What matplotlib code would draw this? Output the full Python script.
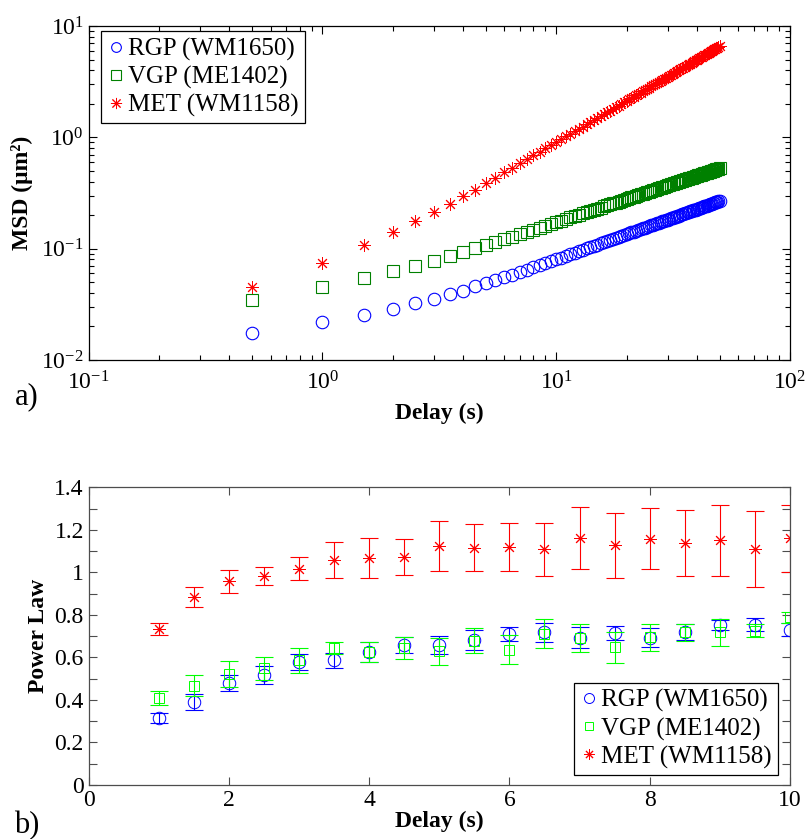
import matplotlib
matplotlib.use("Agg")
import matplotlib.pyplot as plt
from matplotlib.lines import Line2D
from matplotlib.ticker import LogLocator, MultipleLocator, FuncFormatter, NullFormatter
import math

plt.rcParams["font.family"] = ["Liberation Serif", "DejaVu Serif"]
plt.rcParams["mathtext.fontset"] = "custom"
plt.rcParams["mathtext.rm"] = "Liberation Serif"
plt.rcParams["mathtext.it"] = "Liberation Serif:italic"
plt.rcParams["mathtext.bf"] = "Liberation Serif:bold"

OUT_PATH = "out.png"
FONT_SIZE = 17

LABELS = ["RGP (WM1650)", "VGP (ME1402)", "MET (WM1158)"]

# ---- panel a: mean squared displacement vs delay ----
MSD_DELAY = [
    0.5, 1.0, 1.5, 2.0, 2.5, 3.0, 3.5, 4.0, 4.5, 5.0,
    5.5, 6.0, 6.5, 7.0, 7.5, 8.0, 8.5, 9.0, 9.5, 10.0,
    10.5, 11.0, 11.5, 12.0, 12.5, 13.0, 13.5, 14.0, 14.5, 15.0,
    15.5, 16.0, 16.5, 17.0, 17.5, 18.0, 18.5, 19.0, 19.5, 20.0,
    20.5, 21.0, 21.5, 22.0, 22.5, 23.0, 23.5, 24.0, 24.5, 25.0,
    25.5, 26.0, 26.5, 27.0, 27.5, 28.0, 28.5, 29.0, 29.5, 30.0,
    30.5, 31.0, 31.5, 32.0, 32.5, 33.0, 33.5, 34.0, 34.5, 35.0,
    35.5, 36.0, 36.5, 37.0, 37.5, 38.0, 38.5, 39.0, 39.5, 40.0,
    40.5, 41.0, 41.5, 42.0, 42.5, 43.0, 43.5, 44.0, 44.5, 45.0,
    45.5, 46.0, 46.5, 47.0, 47.5, 48.0, 48.5, 49.0, 49.5, 50.0,
]
MSD_RGP = [
    0.0175, 0.022, 0.0252, 0.0288, 0.0324, 0.0354, 0.039, 0.0419, 0.0458, 0.0488,
    0.052, 0.0557, 0.058, 0.0613, 0.0646, 0.0678, 0.0709, 0.074, 0.0771, 0.0801,
    0.0831, 0.0861, 0.089, 0.0919, 0.0947, 0.0975, 0.1004, 0.1031, 0.1059, 0.1086,
    0.1113, 0.114, 0.1166, 0.1193, 0.1219, 0.1245, 0.1271, 0.1297, 0.1322, 0.1347,
    0.1373, 0.1398, 0.1423, 0.1447, 0.1472, 0.1496, 0.1521, 0.1545, 0.1569, 0.1593,
    0.1617, 0.164, 0.1664, 0.1688, 0.1711, 0.1734, 0.1757, 0.178, 0.1804, 0.1826,
    0.1849, 0.1872, 0.1894, 0.1917, 0.1939, 0.1962, 0.1984, 0.2006, 0.2028, 0.205,
    0.2072, 0.2094, 0.2116, 0.2138, 0.216, 0.2181, 0.2203, 0.2224, 0.2245, 0.2266,
    0.2287, 0.2308, 0.2329, 0.235, 0.2371, 0.2392, 0.2413, 0.2434, 0.2455, 0.2476,
    0.2497, 0.2518, 0.2538, 0.2558, 0.2578, 0.2598, 0.2618, 0.2638, 0.2658, 0.2678,
]
MSD_VGP = [
    0.0348, 0.0455, 0.0546, 0.0625, 0.070, 0.078, 0.086, 0.0935, 0.1006, 0.107,
    0.114, 0.122, 0.1285, 0.1352, 0.1418, 0.1483, 0.1546, 0.1608, 0.167, 0.173,
    0.1789, 0.1847, 0.1905, 0.1962, 0.2018, 0.2073, 0.2128, 0.2182, 0.2235, 0.2288,
    0.2341, 0.2393, 0.2444, 0.2495, 0.2545, 0.2595, 0.2645, 0.2694, 0.2742, 0.2791,
    0.2838, 0.2886, 0.2933, 0.298, 0.3027, 0.3073, 0.3119, 0.3165, 0.321, 0.3255,
    0.33, 0.3344, 0.3389, 0.3433, 0.3477, 0.352, 0.3563, 0.3606, 0.3649, 0.3692,
    0.3734, 0.3776, 0.3818, 0.386, 0.3901, 0.3942, 0.3984, 0.4025, 0.4065, 0.4106,
    0.4146, 0.4186, 0.4226, 0.4266, 0.4306, 0.4346, 0.4385, 0.4424, 0.4463, 0.4502,
    0.4541, 0.458, 0.4618, 0.4656, 0.4694, 0.4732, 0.477, 0.4808, 0.4846, 0.4884,
    0.4921, 0.4958, 0.4995, 0.5032, 0.5069, 0.5106, 0.5143, 0.518, 0.5216, 0.5252,
]
MSD_MET = [
    0.0449, 0.0746, 0.107, 0.142, 0.178, 0.214, 0.254, 0.294, 0.337, 0.386,
    0.434, 0.483, 0.533, 0.584, 0.636, 0.688, 0.741, 0.795, 0.85, 0.905,
    0.962, 1.018, 1.075, 1.133, 1.191, 1.25, 1.31, 1.37, 1.43, 1.491,
    1.552, 1.614, 1.676, 1.739, 1.802, 1.866, 1.93, 1.994, 2.059, 2.124,
    2.19, 2.256, 2.322, 2.389, 2.456, 2.523, 2.591, 2.659, 2.727, 2.796,
    2.865, 2.934, 3.004, 3.074, 3.144, 3.214, 3.285, 3.356, 3.427, 3.499,
    3.571, 3.643, 3.715, 3.788, 3.861, 3.934, 4.007, 4.081, 4.155, 4.229,
    4.303, 4.378, 4.453, 4.528, 4.603, 4.679, 4.755, 4.831, 4.907, 4.984,
    5.061, 5.138, 5.215, 5.292, 5.37, 5.448, 5.526, 5.604, 5.682, 5.761,
    5.84, 5.919, 5.998, 6.078, 6.158, 6.238, 6.318, 6.398, 6.479, 6.56,
]

# ---- panel b: power law exponent vs delay ----
PL_DELAY = [1.0, 1.5, 2.0, 2.5, 3.0, 3.5, 4.0, 4.5, 5.0, 5.5,
            6.0, 6.5, 7.0, 7.5, 8.0, 8.5, 9.0, 9.5, 10.0]
PL_RGP = [0.314, 0.390, 0.479, 0.519, 0.580, 0.586, 0.626, 0.657, 0.659, 0.682,
          0.710, 0.718, 0.692, 0.715, 0.692, 0.720, 0.753, 0.754, 0.731]
PL_RGP_ERR = [0.024, 0.036, 0.036, 0.042, 0.037, 0.037, 0.047, 0.038, 0.043, 0.047,
              0.034, 0.045, 0.049, 0.033, 0.045, 0.038, 0.025, 0.030, 0.030]
PL_VGP = [0.409, 0.467, 0.522, 0.550, 0.586, 0.645, 0.624, 0.645, 0.628, 0.679,
          0.637, 0.712, 0.692, 0.647, 0.694, 0.718, 0.718, 0.726, 0.789]
PL_VGP_ERR = [0.033, 0.050, 0.060, 0.054, 0.059, 0.028, 0.047, 0.051, 0.063, 0.059,
              0.069, 0.068, 0.066, 0.072, 0.063, 0.040, 0.063, 0.030, 0.025]
PL_MET = [0.734, 0.883, 0.957, 0.981, 1.018, 1.058, 1.067, 1.073, 1.125, 1.116,
          1.119, 1.108, 1.160, 1.127, 1.158, 1.139, 1.150, 1.109, 1.160]
PL_MET_ERR = [0.030, 0.048, 0.053, 0.042, 0.052, 0.084, 0.094, 0.084, 0.118, 0.112,
              0.113, 0.123, 0.146, 0.152, 0.143, 0.155, 0.165, 0.179, 0.158]

BLUE = "#0000ff"
DARK_GREEN = "#008000"
LIGHT_GREEN = "#00ff00"
RED = "#ff0000"
ASTERISK = (8, 2, 0)


def pow10_label(value, pos):
    exp = int(round(math.log10(value)))
    return r"$\mathrm{10^{%d}}$" % exp


def style_axis(ax, color="black"):
    for spine in ax.spines.values():
        spine.set_color(color)
        spine.set_linewidth(0.9)
    ax.tick_params(which="both", direction="in", top=True, right=True,
                   labelsize=FONT_SIZE, color=color, width=0.8)
    ax.tick_params(which="major", length=6)
    ax.tick_params(which="minor", length=3.5)


def add_legend(ax, handles, loc, anchor):
    leg = ax.legend(handles, LABELS, loc=loc, bbox_to_anchor=anchor,
                    borderaxespad=0, fontsize=18, frameon=True,
                    fancybox=False, framealpha=1, edgecolor="black",
                    handlelength=0.7, handletextpad=0.15, labelspacing=0.2,
                    borderpad=0.25)
    leg.get_frame().set_linewidth(0.9)
    return leg


def plot_msd(ax):
    ax.plot(MSD_DELAY, MSD_RGP, linestyle="none", marker="o", ms=9,
            mfc="none", mec=BLUE, mew=0.8)
    ax.plot(MSD_DELAY, MSD_VGP, linestyle="none", marker="s", ms=8,
            mfc="none", mec=DARK_GREEN, mew=0.8)
    ax.plot(MSD_DELAY, MSD_MET, linestyle="none", marker=ASTERISK, ms=9,
            mfc="none", mec=RED, mew=0.7)

    ax.set_xscale("log")
    ax.set_yscale("log")
    ax.set_xlim(0.1, 100)
    ax.set_ylim(0.01, 10)
    ax.xaxis.set_minor_locator(LogLocator(base=10, subs=range(2, 10)))
    ax.yaxis.set_minor_locator(LogLocator(base=10, subs=range(2, 10)))
    ax.xaxis.set_minor_formatter(NullFormatter())
    ax.yaxis.set_minor_formatter(NullFormatter())
    ax.xaxis.set_major_formatter(FuncFormatter(pow10_label))
    ax.yaxis.set_major_formatter(FuncFormatter(pow10_label))
    style_axis(ax)
    ax.tick_params(axis="x", which="major", pad=8)

    ax.set_xlabel("Delay (s)", fontsize=FONT_SIZE, fontweight="bold", labelpad=6)
    ax.set_ylabel("MSD (μm²)", fontsize=FONT_SIZE, fontweight="bold", labelpad=6)

    handles = [
        Line2D([], [], linestyle="none", marker="o", ms=7, mfc="none", mec=BLUE, mew=0.8),
        Line2D([], [], linestyle="none", marker="s", ms=6.5, mfc="none", mec=DARK_GREEN, mew=0.8),
        Line2D([], [], linestyle="none", marker=ASTERISK, ms=8, mfc="none", mec=RED, mew=0.7),
    ]
    add_legend(ax, handles, "upper left", (0.017, 0.984))


def plot_power_law(ax):
    series = [
        (PL_RGP, PL_RGP_ERR, "o", 9, BLUE),
        (PL_VGP, PL_VGP_ERR, "s", 7.5, LIGHT_GREEN),
        (PL_MET, PL_MET_ERR, ASTERISK, 9, RED),
    ]
    handles = []
    for values, errors, marker, size, color in series:
        ax.errorbar(PL_DELAY, values, yerr=errors, fmt="none", ecolor=color,
                    elinewidth=0.8, capsize=6.5, capthick=0.8)
        ax.plot(PL_DELAY, values, linestyle="none", marker=marker, ms=size,
                mfc="none", mec=color, mew=0.7)
        handles.append(Line2D([], [], linestyle="none", marker=marker,
                              ms=size * 0.8, mfc="none", mec=color, mew=0.7))

    ax.set_xlim(0, 10)
    ax.set_ylim(0, 1.4)
    ax.xaxis.set_major_locator(MultipleLocator(2))
    ax.yaxis.set_major_locator(MultipleLocator(0.2))
    ax.yaxis.set_minor_locator(MultipleLocator(0.1))
    fmt = FuncFormatter(lambda v, pos: "%g" % round(v, 2))
    ax.xaxis.set_major_formatter(fmt)
    ax.yaxis.set_major_formatter(fmt)
    style_axis(ax, color="#4d4d4d")
    ax.tick_params(axis="y", which="minor", length=6)
    ax.tick_params(axis="x", which="minor", bottom=False, top=False)

    ax.set_xlabel("Delay (s)", fontsize=FONT_SIZE, fontweight="bold", labelpad=0)
    ax.set_ylabel("Power Law", fontsize=FONT_SIZE, fontweight="bold", labelpad=4)

    add_legend(ax, handles, "lower right", (0.983, 0.034))


def main():
    fig = plt.figure(figsize=(8.06, 8.39), dpi=100)
    ax_a = fig.add_axes([0.110, 0.571, 0.870, 0.398])
    ax_b = fig.add_axes([0.110, 0.0644, 0.870, 0.3548])

    plot_msd(ax_a)
    plot_power_law(ax_b)

    fig.text(0.018, 0.527, "a)", fontsize=22, va="center", ha="left")
    fig.text(0.018, 0.016, "b)", fontsize=22, va="center", ha="left")

    fig.savefig(OUT_PATH, dpi=100)
    plt.close(fig)
    print(f"Saved: {OUT_PATH}")


if __name__ == "__main__":
    main()
